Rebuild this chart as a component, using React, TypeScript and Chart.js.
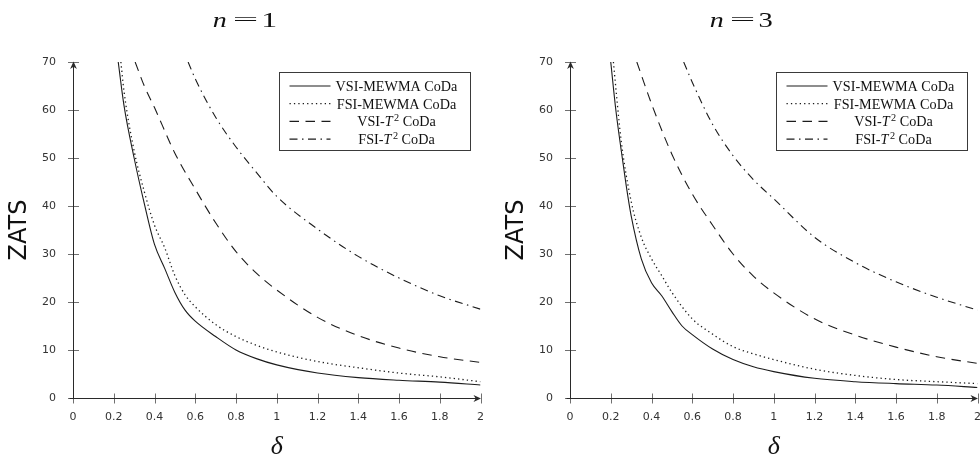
import React, { useEffect, useRef } from "react";
import { Chart, registerables } from "chart.js";

Chart.register(...registerables);

// ---------- tick labels / categories ----------
const deltaTickValues = [0, 0.2, 0.4, 0.6, 0.8, 1, 1.2, 1.4, 1.6, 1.8, 2];
const zatsTickValues = [0, 10, 20, 30, 40, 50, 60, 70];
const seriesNames = ["VSI-MEWMA CoDa", "FSI-MEWMA CoDa", "VSI-T² CoDa", "FSI-T² CoDa"];
const panelN = ["1", "3"];
const xAxisTitle = "δ";
const yAxisTitle = "ZATS";

// ---------- n = 1 ----------
const n1VsiMewmaDelta = [0.222, 0.25, 0.3, 0.35, 0.4, 0.45, 0.5, 0.55, 0.6, 0.7, 0.8, 0.9, 1.0, 1.2, 1.4, 1.6, 1.8, 2.0];
const n1VsiMewmaZats = [70, 61, 50, 40.5, 32, 27, 22, 18.3, 16, 12.8, 10.0, 8.2, 6.9, 5.2, 4.25, 3.7, 3.3, 2.7];

const n1FsiMewmaDelta = [0.235, 0.25, 0.3, 0.35, 0.4, 0.45, 0.5, 0.55, 0.6, 0.7, 0.8, 0.9, 1.0, 1.2, 1.4, 1.6, 1.8, 2.0];
const n1FsiMewmaZats = [70, 64, 51.5, 43, 36, 31.3, 25.5, 21.5, 19, 15.3, 12.8, 11, 9.6, 7.6, 6.3, 5.2, 4.4, 3.4];

const n1VsiT2Delta = [0.305, 0.35, 0.4, 0.5, 0.6, 0.7, 0.8, 0.9, 1.0, 1.2, 1.4, 1.6, 1.8, 2.0];
const n1VsiT2Zats = [70, 65, 60.5, 51, 43.5, 36.5, 30.5, 26, 22.5, 16.8, 13, 10.4, 8.6, 7.4];

const n1FsiT2Delta = [0.565, 0.6, 0.7, 0.8, 0.9, 1.0, 1.2, 1.4, 1.6, 1.8, 2.0];
const n1FsiT2Zats = [70, 66.5, 58.5, 52.3, 47, 42, 35.2, 29.5, 25, 21.3, 18.5];

// ---------- n = 3 ----------
const n3VsiMewmaDelta = [0.2, 0.225, 0.25, 0.275, 0.3, 0.35, 0.4, 0.45, 0.5, 0.55, 0.6, 0.7, 0.8, 0.9, 1.0, 1.2, 1.4, 1.6, 1.8, 2.0];
const n3VsiMewmaZats = [70, 60, 52, 44.5, 38, 29, 24, 21.3, 18, 15, 13.2, 10.2, 8.0, 6.5, 5.5, 4.1, 3.4, 3.0, 2.7, 2.2];

const n3FsiMewmaDelta = [0.213, 0.25, 0.3, 0.35, 0.4, 0.45, 0.5, 0.6, 0.7, 0.8, 0.9, 1.0, 1.2, 1.4, 1.6, 1.8, 2.0];
const n3FsiMewmaZats = [70, 54, 41, 33.5, 29, 25.5, 22, 16.5, 13.3, 10.7, 9.2, 8.0, 6.0, 4.7, 3.85, 3.4, 3.0];

const n3VsiT2Delta = [0.328, 0.4, 0.5, 0.6, 0.7, 0.8, 0.9, 1.0, 1.2, 1.4, 1.6, 1.8, 2.0];
const n3VsiT2Zats = [70, 61.3, 50.8, 42.5, 36, 30, 25.4, 21.9, 16.5, 13.1, 10.6, 8.6, 7.2];

const n3FsiT2Delta = [0.558, 0.6, 0.7, 0.8, 0.9, 1.0, 1.2, 1.4, 1.6, 1.8, 2.0];
const n3FsiT2Zats = [70, 65.8, 57, 50.5, 45.5, 41.5, 33.5, 28.2, 24.2, 21, 18.3];

// ---------- styles ----------
const lineDashes: number[][] = [[], [1.3, 3.1], [9.5, 6.5], [8, 4.5, 1.5, 4.5]];
const INK = "#1c1c1c";

type Series = { delta: number[]; zats: number[] };

const panels = [
  {
    n: panelN[0],
    canvasLeft: 0,
    canvasWidth: 497,
    axisWidth: 73,
    padRight: 9,
    yTitlePad: 5.6,
    series: [
      { delta: n1VsiMewmaDelta, zats: n1VsiMewmaZats },
      { delta: n1FsiMewmaDelta, zats: n1FsiMewmaZats },
      { delta: n1VsiT2Delta, zats: n1VsiT2Zats },
      { delta: n1FsiT2Delta, zats: n1FsiT2Zats },
    ] as Series[],
  },
  {
    n: panelN[1],
    canvasLeft: 490,
    canvasWidth: 504,
    axisWidth: 80,
    padRight: 13,
    yTitlePad: 12.6,
    series: [
      { delta: n3VsiMewmaDelta, zats: n3VsiMewmaZats },
      { delta: n3FsiMewmaDelta, zats: n3FsiMewmaZats },
      { delta: n3VsiT2Delta, zats: n3VsiT2Zats },
      { delta: n3FsiT2Delta, zats: n3FsiT2Zats },
    ] as Series[],
  },
];

const SERIF = '"Liberation Serif", "Times New Roman", serif';
const SANS = '"DejaVu Sans", sans-serif';

function drawArrow(ctx: CanvasRenderingContext2D, tx: number, ty: number, dx: number, dy: number) {
  const len = 7.5;
  const half = 3.4;
  const notch = 2.2;
  const px = -dy;
  const py = dx;
  ctx.beginPath();
  ctx.moveTo(tx, ty);
  ctx.lineTo(tx - dx * len + px * half, ty - dy * len + py * half);
  ctx.lineTo(tx - dx * (len - notch), ty - dy * (len - notch));
  ctx.lineTo(tx - dx * len - px * half, ty - dy * len - py * half);
  ctx.closePath();
  ctx.fill();
}

const axesPlugin = {
  id: "axesDecor",
  beforeDatasetsDraw(chart: any) {
    const { ctx, chartArea, scales } = chart;
    const { left, right, top, bottom } = chartArea;
    const xs = scales.x;
    const ys = scales.y;
    const ax = Math.round(left) + 0.5;
    const ay = Math.round(bottom) + 0.5;
    ctx.save();
    ctx.lineWidth = 1;
    ctx.strokeStyle = "#707070";
    ctx.beginPath();
    deltaTickValues.forEach((v) => {
      const p = Math.round(xs.getPixelForValue(v)) + 0.5;
      ctx.moveTo(p, ay - 5);
      ctx.lineTo(p, ay + 5);
    });
    zatsTickValues.forEach((v) => {
      const p = Math.round(ys.getPixelForValue(v)) + 0.5;
      ctx.moveTo(ax - 5.5, p);
      ctx.lineTo(ax + 5.5, p);
    });
    ctx.stroke();
    ctx.strokeStyle = "#2a2a2a";
    ctx.fillStyle = "#2a2a2a";
    ctx.beginPath();
    ctx.moveTo(ax - 4, ay);
    ctx.lineTo(right - 3, ay);
    ctx.moveTo(ax, ay);
    ctx.lineTo(ax, top + 3);
    ctx.stroke();
    drawArrow(ctx, right + 0.5, ay, 1, 0);
    drawArrow(ctx, ax, top - 0.5, 0, -1);
    ctx.restore();
  },
};

function drawScaledGlyph(ctx: CanvasRenderingContext2D, text: string, font: string, inkLeft: number, inkWidth: number, baseline: number) {
  ctx.save();
  ctx.font = font;
  const m = ctx.measureText(text);
  const w = m.actualBoundingBoxLeft + m.actualBoundingBoxRight;
  const sx = w > 0 ? inkWidth / w : 1;
  ctx.translate(inkLeft, baseline);
  ctx.scale(sx, 1);
  ctx.textAlign = "left";
  ctx.textBaseline = "alphabetic";
  ctx.fillText(text, m.actualBoundingBoxLeft, 0);
  ctx.restore();
}

function makeTitlePlugin(n: string) {
  return {
    id: "panelTitle",
    afterDraw(chart: any) {
      const { ctx, chartArea } = chart;
      const c = (chartArea.left + chartArea.right) / 2 - 32;
      const base = 27;
      ctx.save();
      ctx.fillStyle = "#111";
      drawScaledGlyph(ctx, "n", `italic 22px ${SERIF}`, c - 32, 14, base);
      drawScaledGlyph(ctx, "=", `17px ${SERIF}`, c - 12, 24, base - 2);
      drawScaledGlyph(ctx, n, `22px ${SERIF}`, c + 18, 13, base);
      ctx.restore();
    },
  };
}

function drawLegendLabel(ctx: CanvasRenderingContext2D, label: string, cx: number, baseline: number) {
  const size = 14.2;
  const normal = `${size}px ${SERIF}`;
  const idx = label.indexOf("T²");
  const parts: { t: string; f: string; dy: number; kern: number }[] = [];
  if (idx >= 0) {
    parts.push({ t: label.slice(0, idx), f: normal, dy: 0, kern: 0 });
    parts.push({ t: "T", f: `italic ${size}px ${SERIF}`, dy: 0, kern: 1.5 });
    parts.push({ t: "2", f: `${size * 0.72}px ${SERIF}`, dy: -5.5, kern: 0 });
    parts.push({ t: label.slice(idx + 2), f: normal, dy: 0, kern: 0 });
  } else {
    parts.push({ t: label, f: normal, dy: 0, kern: 0 });
  }
  let total = 0;
  const widths = parts.map((p) => {
    ctx.font = p.f;
    const w = ctx.measureText(p.t).width + p.kern;
    total += w;
    return w;
  });
  let x = cx - total / 2;
  ctx.textAlign = "left";
  ctx.textBaseline = "alphabetic";
  parts.forEach((p, i) => {
    ctx.font = p.f;
    ctx.fillText(p.t, x, baseline + p.dy);
    x += widths[i];
  });
}

const legendPlugin = {
  id: "boxLegend",
  afterDraw(chart: any) {
    const { ctx, chartArea } = chart;
    const bw = 191;
    const bh = 78;
    const bx = Math.round(chartArea.right - 11 - bw) + 0.5;
    const by = Math.round(chartArea.top + 10) + 0.5;
    ctx.save();
    ctx.fillStyle = "#ffffff";
    ctx.fillRect(bx, by, bw, bh);
    ctx.strokeStyle = "#3a3a3a";
    ctx.lineWidth = 1;
    ctx.strokeRect(bx, by, bw, bh);
    chart.data.datasets.forEach((ds: any, i: number) => {
      const ry = by + 13.5 + i * 17.7;
      ctx.save();
      ctx.strokeStyle = INK;
      ctx.lineWidth = ds.borderWidth;
      ctx.setLineDash(ds.borderDash || []);
      ctx.beginPath();
      ctx.moveTo(bx + 10, ry);
      ctx.lineTo(bx + 51, ry);
      ctx.stroke();
      ctx.restore();
      ctx.fillStyle = "#111";
      drawLegendLabel(ctx, ds.label, bx + 117, ry + 5);
    });
    ctx.restore();
  },
};

function makeConfig(panel: (typeof panels)[number]): any {
  return {
    type: "line",
    data: {
      datasets: panel.series.map((s, i) => ({
        label: seriesNames[i],
        data: s.delta.map((d, j) => ({ x: d, y: s.zats[j] })),
        borderColor: INK,
        borderWidth: i === 1 ? 1.3 : 1.1,
        borderDash: lineDashes[i],
        borderCapStyle: "butt",
        pointRadius: 0,
        fill: false,
        cubicInterpolationMode: "monotone",
      })),
    },
    options: {
      responsive: false,
      animation: false,
      events: [],
      layout: { padding: { top: 62, right: panel.padRight, left: 0, bottom: 0 } },
      plugins: {
        legend: { display: false },
        tooltip: { enabled: false },
        title: { display: false },
      },
      scales: {
        x: {
          type: "linear",
          min: 0,
          max: 2,
          grid: { display: false, drawTicks: false },
          border: { display: false },
          afterBuildTicks: (s: any) => {
            s.ticks = deltaTickValues.map((v) => ({ value: v }));
          },
          ticks: {
            padding: 13,
            color: "#333",
            font: { family: SANS, size: 11 },
            autoSkip: false,
            maxRotation: 0,
            callback: (v: number) => String(v),
          },
          title: {
            display: true,
            text: xAxisTitle,
            color: "#111",
            font: { family: SERIF, style: "italic", size: 26 },
            padding: { top: 0, bottom: 0 },
          },
          afterFit: (s: any) => {
            s.height = 65;
          },
        },
        y: {
          type: "linear",
          min: 0,
          max: 70,
          grid: { display: false, drawTicks: false },
          border: { display: false },
          afterBuildTicks: (s: any) => {
            s.ticks = zatsTickValues.map((v) => ({ value: v }));
          },
          ticks: {
            padding: 17,
            color: "#333",
            font: { family: SANS, size: 11 },
            callback: (v: number) => String(v),
          },
          title: {
            display: true,
            text: yAxisTitle,
            color: "#111",
            font: { family: SANS, size: 24 },
            padding: { top: panel.yTitlePad, bottom: 0 },
          },
          afterFit: (s: any) => {
            s.width = panel.axisWidth;
          },
        },
      },
    },
    plugins: [axesPlugin, makeTitlePlugin(panel.n), legendPlugin],
  };
}

function Panel({ panel }: { panel: (typeof panels)[number] }) {
  const ref = useRef<HTMLCanvasElement | null>(null);
  useEffect(() => {
    if (!ref.current) return;
    const chart = new Chart(ref.current, makeConfig(panel));
    return () => chart.destroy();
  }, [panel]);
  return (
    <canvas
      ref={ref}
      width={panel.canvasWidth}
      height={463}
      style={{ position: "absolute", left: panel.canvasLeft, top: 0, width: panel.canvasWidth, height: 463, display: "block" }}
    />
  );
}

export default function App() {
  return (
    <div
      style={{
        position: "absolute",
        left: 0,
        top: 0,
        width: 980,
        height: 463,
        overflow: "hidden",
        background: "#ffffff",
      }}
    >
      {panels.map((p) => (
        <Panel key={p.n} panel={p} />
      ))}
    </div>
  );
}
